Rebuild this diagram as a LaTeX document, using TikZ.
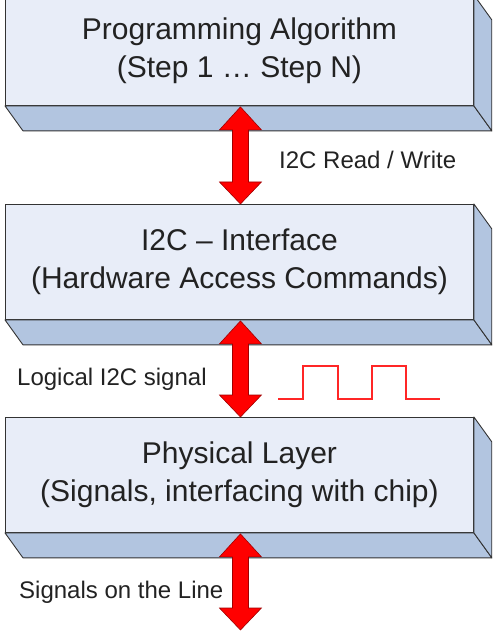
\documentclass[tikz,border=0pt]{standalone}
\usepackage{fontspec}
\setmainfont{Liberation Sans}
\usetikzlibrary{calc}
\definecolor{frontc}{HTML}{E8EDF8}
\definecolor{sidec}{HTML}{B2C5E0}
\definecolor{edgec}{HTML}{333333}
\definecolor{arrowred}{HTML}{FF0000}
\definecolor{arrowedge}{HTML}{A00000}
\definecolor{txtc}{HTML}{222222}
\newcommand{\blockfaces}[1]{%
  \path[sideface] (#1.south west) -- ++(18pt,-25pt) -- ($(#1.south east)+(18pt,-25pt)$) -- (#1.south east) -- cycle;
  \path[sideface] (#1.north east) -- ++(18pt,-25pt) -- ($(#1.south east)+(18pt,-25pt)$) -- (#1.south east) -- cycle;
}
\newcommand{\dblarrow}[2]{%
  \path[bigarrow] let \p1=(#1), \p2=(#2) in
    (\x1,\y1) -- (\x1+21pt,\y1-23pt) -- (\x1+8pt,\y1-23pt) -- (\x1+8pt,\y2+22pt) -- (\x1+21pt,\y2+22pt)
    -- (\x1,\y2) -- (\x1-21pt,\y2+22pt) -- (\x1-8pt,\y2+22pt) -- (\x1-8pt,\y1-23pt) -- (\x1-21pt,\y1-23pt) -- cycle;
}
\begin{document}
\begin{tikzpicture}[x=1pt,y=-1pt,
  box/.style={draw=edgec, line width=0.9pt, fill=frontc, anchor=north west, minimum width=468pt,
    align=center, text=txtc, font=\fontsize{30}{38}\selectfont, inner sep=0pt},
  sideface/.style={draw=edgec, line width=0.9pt, fill=sidec, line join=round},
  bigarrow/.style={fill=arrowred, draw=arrowedge, line width=0.6pt, line join=miter},
  lbl/.style={anchor=base west, text=txtc, font=\fontsize{24}{28}\selectfont, inner sep=0pt},
  wave/.style={draw=red!85!white, line width=1.3pt}]
\useasboundingbox (0,0) rectangle (492,636);
\begin{scope}
\clip (0,0) rectangle (492,636);
\node[box, minimum height=110pt] (b1) at (5,-5) {Programming Algorithm\\(Step 1 … Step N)};
\blockfaces{b1}
\node[box, minimum height=115pt] (b2) at (5,204) {I2C – Interface\\(Hardware Access Commands)};
\blockfaces{b2}
\node[box, minimum height=115pt] (b3) at (5,417) {Physical Layer\\(Signals, interfacing with chip)};
\blockfaces{b3}
\end{scope}
\coordinate (a1top) at ($(b1.south)+(1pt,-1pt)$);
\coordinate (a1bot) at ($(b2.north)+(1pt,0)$);
\coordinate (a2top) at ($(b2.south)+(1pt,-1pt)$);
\coordinate (a2bot) at ($(b3.north)+(1pt,0)$);
\coordinate (a3top) at ($(b3.south)+(1pt,-1pt)$);
\coordinate (a3bot) at (240,630);
\dblarrow{a1top}{a1bot}
\dblarrow{a2top}{a2bot}
\dblarrow{a3top}{a3bot}
\node[lbl] (l1) at (279,169) {I2C Read / Write};
\node[lbl] (l2) at (17,385) {Logical I2C signal};
\node[lbl] (l3) at (19,598) {Signals on the Line};
\draw[wave] (278,399) -- (303,399) -- (303,366) -- (338,366) -- (338,399) -- (372,399) -- (372,366) -- (406,366) -- (406,399) -- (440,399);
\end{tikzpicture}
\end{document}
